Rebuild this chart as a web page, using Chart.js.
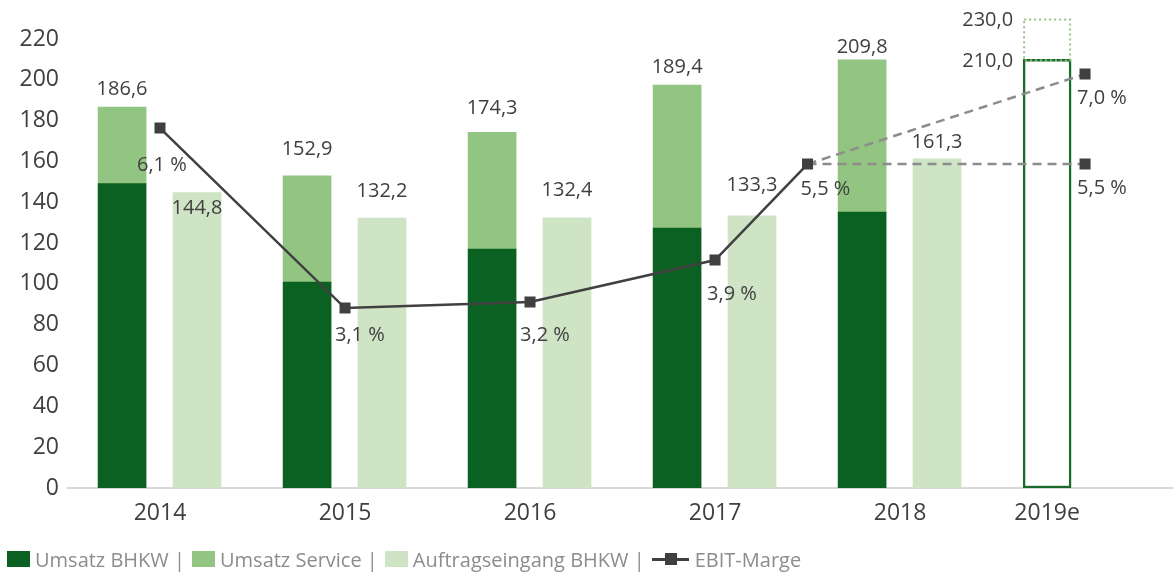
<!DOCTYPE html>
<html lang="de">
<head>
<meta charset="utf-8">
<title>Umsatz, Auftragseingang und EBIT-Marge</title>
<script src="https://cdn.jsdelivr.net/npm/chart.js@4.4.1/dist/chart.umd.min.js"></script>
<style>
  html, body { margin: 0; padding: 0; background: #fff; }
  #wrap { position: relative; width: 1173px; height: 573px; }
  #legend {
    position: absolute; left: 7px; top: 548px; height: 22px;
    display: flex; align-items: center;
    font: 20px "Open Sans", sans-serif; color: #8c8c8c; white-space: nowrap;
  }
  .item { display: flex; align-items: center; margin-right: 7px; }
  .box { width: 23px; height: 16px; margin-right: 5px; }
  .lin { position: relative; width: 37px; height: 3px; margin-right: 6px; }
  .sq { position: absolute; left: 13px; top: -5px; width: 12px; height: 12px; }
</style>
</head>
<body>
<div id="wrap">
  <canvas id="chart" width="1173" height="573"></canvas>
  <div id="legend"></div>
</div>
<script>
const jahre = ["2014", "2015", "2016", "2017", "2018", "2019e"];
const umsatzBHKW = [149.1, 100.9, 117.1, 127.4, 135.2];
const umsatzService = [37.5, 52.0, 57.2, 70.0, 74.6];
const umsatzLabels = [186.6, 152.9, 174.3, 189.4, 209.8]; // Beschriftung wie im Original
const auftragseingang = [144.8, 132.2, 132.4, 133.3, 161.3];
const ebitMarge = [6.1, 3.1, 3.2, 3.9, 5.5];
const ebitPos = [0, 1, 2, 3, 3.5];
const prognoseUmsatz = [210.0, 230.0];
const prognoseEbit = [7.0, 5.5];
const prognosePos = 5;

const dunkelgruen = "#0b6121";
const mittelgruen = "#92c582";
const hellgruen = "#cfe3c5";
const grau = "#404040";

// Versatz der Balken innerhalb einer Kategorie
const offUmsatz = -0.205;
const offAuftrag = 0.2;

const fmt = v => v.toFixed(1).replace(".", ",");

const ebitLinie = ebitMarge.map((v, i) => ({ x: ebitPos[i], y: v }));
const letzterPunkt = ebitLinie[ebitLinie.length - 1];

const labelPlugin = {
  id: "werte",
  afterDatasetsDraw(chart, args, opts) {
    const ctx = chart.ctx;
    ctx.save();
    ctx.font = "20px 'Open Sans'";
    ctx.fillStyle = grau;
    ctx.textBaseline = "middle";

    // Umsatz gesamt
    ctx.textAlign = "center";
    chart.getDatasetMeta(4).data.forEach((el, i) => {
      ctx.fillText(fmt(umsatzLabels[i]), el.x, el.y + opts.umsatzDy[i]);
    });
    // Auftragseingang
    chart.getDatasetMeta(5).data.forEach((el, i) => {
      ctx.fillText(fmt(auftragseingang[i]), el.x, el.y + opts.auftragDy[i]);
    });

    // EBIT-Marge
    ctx.textAlign = "left";
    chart.getDatasetMeta(0).data.forEach((el, i) => {
      const o = opts.ebitOff[i];
      ctx.fillText(fmt(ebitMarge[i]) + " %", el.x + o[0], el.y + o[1]);
    });
    [1, 2].forEach((d, k) => {
      const el = chart.getDatasetMeta(d).data[1];
      ctx.fillText(fmt(prognoseEbit[k]) + " %", el.x - 8, el.y + 24);
    });

    // Prognose 2019e
    const box = chart.getDatasetMeta(7).data[0];
    ctx.strokeStyle = mittelgruen;
    ctx.lineWidth = 2;
    ctx.setLineDash([2, 3]);
    ctx.strokeRect(box.x - box.width / 2 + 1, box.y + 1, box.width - 2, box.base - box.y);
    ctx.setLineDash([]);
    ctx.textAlign = "right";
    const yScale = chart.scales.y;
    prognoseUmsatz.forEach(v => {
      ctx.fillText(fmt(v), box.x - box.width / 2 - 10, yScale.getPixelForValue(v) + 2);
    });
    ctx.restore();
  }
};

const chart = new Chart(document.getElementById("chart"), {
  data: {
    datasets: [
      {
        type: "line", label: "EBIT-Marge", yAxisID: "y2", order: 0,
        data: ebitLinie,
        borderColor: grau, borderWidth: 2.5,
        pointStyle: "rect", pointRadius: 7.8,
        pointBackgroundColor: grau, pointBorderColor: grau, pointBorderWidth: 0,
        legend: "line"
      },
      {
        type: "line", yAxisID: "y2", order: 0,
        data: [letzterPunkt, { x: prognosePos, y: prognoseEbit[0] }],
        borderColor: "#8c8c8c", borderWidth: 2.5, borderDash: [9, 6],
        pointStyle: "rect", pointRadius: [0, 7.8],
        pointBackgroundColor: grau, pointBorderColor: grau, pointBorderWidth: 0
      },
      {
        type: "line", yAxisID: "y2", order: 0,
        data: [letzterPunkt, { x: prognosePos, y: prognoseEbit[1] }],
        borderColor: "#8c8c8c", borderWidth: 2.5, borderDash: [9, 6],
        pointStyle: "rect", pointRadius: [0, 7.8],
        pointBackgroundColor: grau, pointBorderColor: grau, pointBorderWidth: 0
      },
      {
        type: "bar", label: "Umsatz BHKW", order: 1, grouped: false,
        data: umsatzBHKW.map((v, i) => ({ x: i + offUmsatz, y: v })),
        backgroundColor: dunkelgruen, barThickness: 48,
        legend: "box"
      },
      {
        type: "bar", label: "Umsatz Service", order: 1, grouped: false,
        data: umsatzService.map((v, i) => ({ x: i + offUmsatz, y: [umsatzBHKW[i], umsatzBHKW[i] + v] })),
        backgroundColor: mittelgruen, barThickness: 48,
        legend: "box"
      },
      {
        type: "bar", label: "Auftragseingang BHKW", order: 1, grouped: false,
        data: auftragseingang.map((v, i) => ({ x: i + offAuftrag, y: v })),
        backgroundColor: hellgruen, barThickness: 48,
        legend: "box"
      },
      {
        type: "bar", order: 1, grouped: false,
        data: [{ x: prognosePos + offUmsatz, y: [0, prognoseUmsatz[0]] }],
        backgroundColor: "#ffffff", borderColor: "#1a6b2b", borderWidth: 2.5,
        borderSkipped: false, barThickness: 48
      },
      {
        type: "bar", order: 1, grouped: false,
        data: [{ x: prognosePos + offUmsatz, y: [prognoseUmsatz[0], prognoseUmsatz[1]] }],
        backgroundColor: "rgba(0,0,0,0)", borderWidth: 0, barThickness: 48
      }
    ]
  },
  options: {
    responsive: false,
    animation: false,
    layout: { autoPadding: false, padding: { top: 39, right: 1, left: 0, bottom: 0 } },
    plugins: {
      legend: { display: false },
      tooltip: { enabled: false },
      werte: {
        umsatzDy: [-18, -27, -24, -18, -13],
        auftragDy: [16, -27, -27, -31, -17],
        ebitOff: [[-23, 37], [-10, 27], [-10, 33], [-8, 34], [-7, 25]]
      }
    },
    scales: {
      x: {
        type: "linear", min: -0.5, max: 5.47, offset: false,
        afterFit: s => { s.height = 85; },
        afterBuildTicks: s => {
          s.ticks = jahre.map((j, i) => ({ value: i === jahre.length - 1 ? i + offUmsatz : i }));
        },
        grid: { display: false, drawTicks: false, offset: false },
        border: { display: true, color: "#d9d9d9", width: 2 },
        ticks: {
          autoSkip: false, maxRotation: 0, padding: 12,
          color: grau, font: { family: "Open Sans", size: 23 },
          callback: (v, i) => jahre[i]
        }
      },
      y: {
        min: 0, max: 220,
        afterFit: s => { s.width = 67.5; },
        grid: { display: false, drawTicks: false },
        border: { display: false },
        ticks: { stepSize: 20, padding: 8.5, color: grau, font: { family: "Open Sans", size: 23 } }
      },
      y2: { display: false, min: 0.1, max: 7.585 }
    }
  },
  plugins: [labelPlugin]
});

// Legende
const legend = document.getElementById("legend");
const items = chart.data.datasets.filter(d => d.legend);
const order = ["Umsatz BHKW", "Umsatz Service", "Auftragseingang BHKW", "EBIT-Marge"];
order.forEach((name, k) => {
  const d = items.find(x => x.label === name);
  const item = document.createElement("span");
  item.className = "item";
  if (d.legend === "box") {
    item.innerHTML = '<span class="box" style="background:' + d.backgroundColor + '"></span>';
  } else {
    item.innerHTML = '<span class="lin" style="background:' + d.borderColor + '"><span class="sq" style="background:' + d.borderColor + '"></span></span>';
  }
  const t = document.createElement("span");
  t.textContent = d.label + (k < order.length - 1 ? " |" : "");
  item.appendChild(t);
  legend.appendChild(item);
});
</script>
</body>
</html>
